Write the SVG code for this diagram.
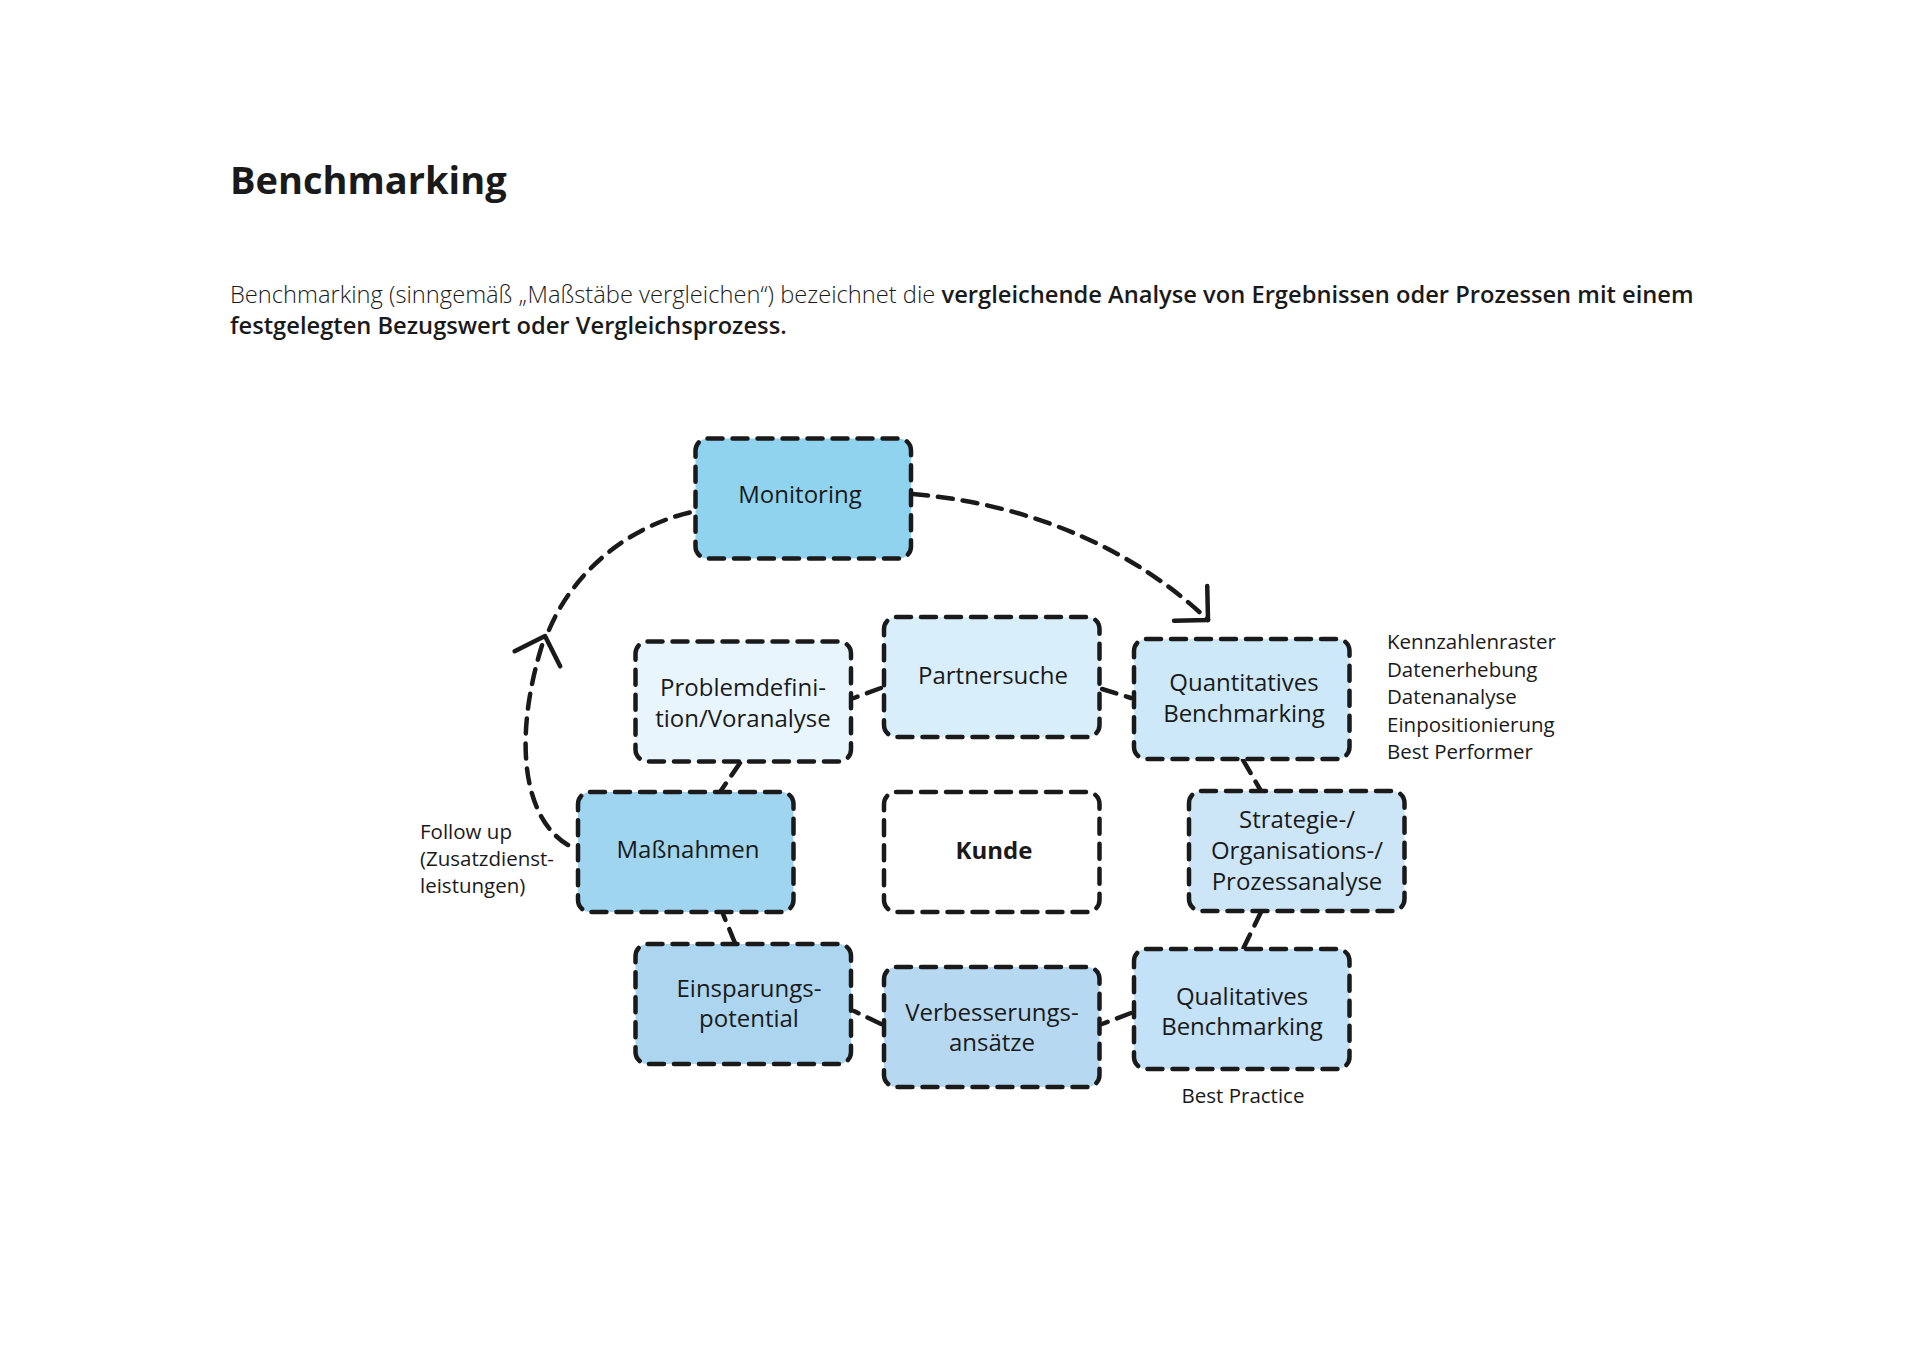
<svg xmlns="http://www.w3.org/2000/svg" width="1920" height="1358" viewBox="0 0 1920 1358">
<style>
.bg{fill:#ffffff}
.node{stroke:#1a1a1a;stroke-width:4.5;stroke-dasharray:15 10;stroke-linecap:round}
.lbl{font-family:"Open Sans","Noto Sans",sans-serif;font-size:24px;fill:#1a1a1a;text-anchor:middle}
.side{font-family:"Open Sans","Noto Sans",sans-serif;font-size:20.5px;fill:#1a1a1a}
.conn{fill:none;stroke:#1a1a1a;stroke-width:4.5;stroke-dasharray:15 10;stroke-linecap:round}
.title{font-family:"Open Sans","Noto Sans",sans-serif;font-size:38px;font-weight:bold;fill:#1a1a1a}
.para{font-family:"Open Sans","Noto Sans",sans-serif;font-size:23.7px;fill:#1a1a1a;font-weight:300}
.b{font-weight:600}
</style>
<defs>
<marker id="chev" markerUnits="userSpaceOnUse" markerWidth="60" markerHeight="60" refX="0" refY="0" orient="auto" viewBox="-30 -30 60 60" overflow="visible">
<path d="M-24,-24 L0,0 L-24,24" fill="none" stroke="#1a1a1a" stroke-width="4.5" stroke-dasharray="none" stroke-linecap="round" stroke-linejoin="round"/>
</marker>
</defs>
<rect class="bg" x="0" y="0" width="1920" height="1358"/>
<text class="title" x="230" y="194">Benchmarking</text>
<text class="para" x="230" y="303">Benchmarking (sinngemäß „Maßstäbe vergleichen“) bezeichnet die <tspan class="b">vergleichende Analyse von Ergebnissen oder Prozessen mit einem</tspan></text>
<text class="para b" x="230" y="334">festgelegten Bezugswert oder Vergleichsprozess.</text>

<g id="connectors">
<path class="conn" d="M913,494 C1040,505 1140,555 1208,620" marker-end="url(#chev)"/>
<path class="conn" d="M568,845 C522,818 512,735 545,636" marker-end="url(#chev)"/>
<path class="conn" d="M549,630 C572,575 625,527 692,512"/>
<path class="conn" d="M881,688 L854,698"/>
<path class="conn" d="M1102,689 L1131,698"/>
<path class="conn" d="M740,763 L720,792"/>
<path class="conn" d="M1243,760 L1261,791"/>
<path class="conn" d="M1261,912 L1243,949"/>
<path class="conn" d="M1131,1013 L1102,1024"/>
<path class="conn" d="M881,1024 L854,1011"/>
<path class="conn" d="M735,943 L723,914"/>
</g>

<g id="n-monitoring"><rect class="node" x="695.5" y="438.5" width="215.5" height="120" rx="12" fill="#8fd3ee"/><text class="lbl" x="800" y="503">Monitoring</text></g>
<g id="n-partnersuche"><rect class="node" x="884" y="617" width="215.5" height="120" rx="12" fill="#d8eefb"/><text class="lbl" x="993" y="684">Partnersuche</text></g>
<g id="n-problemdef"><rect class="node" x="635.5" y="641.5" width="215.5" height="120" rx="12" fill="#e8f5fd"/><text class="lbl" x="743" y="696">Problemdefini-</text><text class="lbl" x="743" y="727">tion/Voranalyse</text></g>
<g id="n-quant"><rect class="node" x="1134" y="639" width="215.5" height="120" rx="12" fill="#cde8f9"/><text class="lbl" x="1244" y="691">Quantitatives</text><text class="lbl" x="1244" y="722">Benchmarking</text></g>
<g id="n-massnahmen"><rect class="node" x="578" y="792" width="215.5" height="120" rx="12" fill="#9fd5ee"/><text class="lbl" x="688" y="858">Maßnahmen</text></g>
<g id="n-kunde"><rect class="node" x="884" y="792" width="215.5" height="120" rx="12" fill="#ffffff"/><text class="lbl" x="994" y="859" font-weight="bold">Kunde</text></g>
<g id="n-strategie"><rect class="node" x="1189" y="791" width="215.5" height="120" rx="12" fill="#cce6f8"/><text class="lbl" x="1297" y="828">Strategie-/</text><text class="lbl" x="1297" y="859">Organisations-/</text><text class="lbl" x="1297" y="890">Prozessanalyse</text></g>
<g id="n-einsparung"><rect class="node" x="635.5" y="944" width="215.5" height="120" rx="12" fill="#acd5ef"/><text class="lbl" x="749" y="997">Einsparungs-</text><text class="lbl" x="749" y="1027">potential</text></g>
<g id="n-verbesserung"><rect class="node" x="884" y="967" width="215.5" height="120" rx="12" fill="#b7d8f1"/><text class="lbl" x="992" y="1021">Verbesserungs-</text><text class="lbl" x="992" y="1051">ansätze</text></g>
<g id="n-qualitativ"><rect class="node" x="1134" y="949" width="215.5" height="120" rx="12" fill="#c3e1f7"/><text class="lbl" x="1242" y="1005">Qualitatives</text><text class="lbl" x="1242" y="1035">Benchmarking</text></g>

<g id="annotations">
<text class="side" x="1387" y="649">Kennzahlenraster</text>
<text class="side" x="1387" y="677">Datenerhebung</text>
<text class="side" x="1387" y="704">Datenanalyse</text>
<text class="side" x="1387" y="732">Einpositionierung</text>
<text class="side" x="1387" y="759">Best Performer</text>
<text class="side" x="1243" y="1103" text-anchor="middle">Best Practice</text>
<text class="side" x="420" y="839">Follow up</text>
<text class="side" x="420" y="866">(Zusatzdienst-</text>
<text class="side" x="420" y="893">leistungen)</text>
</g>
</svg>
